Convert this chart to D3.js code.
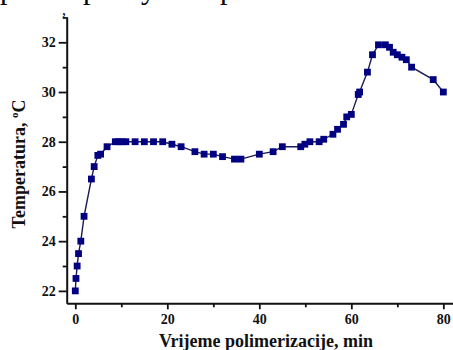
<!DOCTYPE html>
<html lang="en">
<head>
<meta charset="UTF-8">
<title>Temperatura polimerizacije</title>
<script src="https://d3js.org/d3.v7.min.js"></script>
<style>
    body { margin: 0; background: #fff; }
    svg { display: block; font-family: "Liberation Serif", "DejaVu Serif", serif; }
</style>
</head>
<body>
<svg id="chart" width="453" height="350"></svg>
<script>
    // vrijeme (min) i temperatura (°C) ocitano sa slike
    const times = [0, 0.15, 0.4, 0.7, 1.2, 1.9, 3.5, 4.1, 4.9, 5.5,
        6.9, 8.7, 9.4, 10.2, 11, 13, 15, 17, 19, 21,
        23, 26, 28, 30, 32, 34.6, 36, 40, 43, 45,
        49, 49.9, 51, 53, 54, 56, 57, 58.3, 59, 60,
        61.5, 61.8, 63.5, 64.6, 65.9, 67.4, 68.3, 69.1, 70, 71,
        71.95, 73.1, 77.8, 80];
    const temps = [22, 22.5, 23, 23.5, 24, 25, 26.5, 27, 27.45, 27.5,
        27.8, 28, 28, 28, 28, 28, 28, 28, 28, 27.9,
        27.8, 27.6, 27.5, 27.5, 27.4, 27.3, 27.3, 27.5, 27.6, 27.8,
        27.8, 27.9, 28, 28, 28.1, 28.3, 28.5, 28.7, 29, 29.1,
        29.9, 30, 30.8, 31.5, 31.9, 31.9, 31.8, 31.6, 31.5, 31.4,
        31.3, 31, 30.5, 30];
    const xTicks = [0, 20, 40, 60, 80];
    const xMinor = [10, 30, 50, 70];
    const yTicks = [22, 24, 26, 28, 30, 32];
    const yMinor = [23, 25, 27, 29, 31, 33];

    const data = times.map((t, i) => ({ t: t, v: temps[i] }));

    const svg = d3.select("#chart");
    const serif = "'Liberation Serif', 'DejaVu Serif', serif";

    const x = d3.scaleLinear().domain([-1.87, 82.1]).range([66.7, 453]);
    const y = d3.scaleLinear().domain([21.5, 33.03]).range([303.3, 16.7]);

    // ostaci teksta iz prethodnog reda (odrezani na vrhu)
    const scraps = [["p", 0, -1, 30], [",", 62, 15, 16], ["p", 83, -1, 30], ["y", 141, -1, 30], ["p", 220, -1, 30]];
    svg.append("g")
        .selectAll("text")
        .data(scraps)
        .enter()
        .append("text")
        .attr("x", d => d[1])
        .attr("y", d => d[2])
        .style("font-size", d => d[3] + "px")
        .text(d => d[0]);

    // linija
    svg.append("path")
        .datum(data)
        .attr("fill", "none")
        .attr("stroke", "#1b1b55")
        .attr("stroke-width", 1.4)
        .attr("d", d3.line().x(d => x(d.t)).y(d => y(d.v)));

    // markeri
    const s = 6.8;
    svg.append("g")
        .selectAll("rect")
        .data(data)
        .enter()
        .append("rect")
        .attr("x", d => x(d.t) - s / 2)
        .attr("y", d => y(d.v) - s / 2)
        .attr("width", s)
        .attr("height", s)
        .attr("fill", "#000080");

    // osi
    svg.append("g")
        .attr("transform", "translate(0,303.3)")
        .call(d3.axisBottom(x).tickValues(xTicks).tickSize(6).tickSizeOuter(0).tickPadding(5));
    svg.append("g")
        .attr("transform", "translate(0,303.3)")
        .call(d3.axisBottom(x).tickValues(xMinor).tickSize(4).tickFormat(""))
        .select(".domain").remove();

    svg.append("g")
        .attr("transform", "translate(66.7,0)")
        .call(d3.axisLeft(y).tickValues(yTicks).tickSize(8).tickSizeOuter(0).tickPadding(3));
    svg.append("g")
        .attr("transform", "translate(66.7,0)")
        .call(d3.axisLeft(y).tickValues(yMinor).tickSize(4).tickFormat(""))
        .select(".domain").remove();

    svg.selectAll("g").attr("font-family", serif);
    svg.selectAll(".domain").attr("stroke", "#111").attr("stroke-width", 2);
    svg.selectAll(".tick line").attr("stroke", "#111").attr("stroke-width", 1.8);
    svg.selectAll(".tick text")
        .attr("font-family", serif)
        .attr("font-size", 14)
        .attr("font-weight", "bold")
        .attr("fill", "#111");

    // naslovi osi
    svg.append("text")
        .attr("x", 266)
        .attr("y", 347)
        .attr("text-anchor", "middle")
        .style("font-size", "18px")
        .style("font-weight", "bold")
        .attr("fill", "#111")
        .text("Vrijeme polimerizacije, min");

    const yl = svg.append("text")
        .attr("text-anchor", "middle")
        .attr("transform", "translate(25,164)rotate(-90)")
        .style("font-size", "18px")
        .style("font-weight", "bold")
        .attr("fill", "#111");
    yl.append("tspan").text("Temperatura, ");
    yl.append("tspan").attr("dy", -7).style("font-size", "11px").text("o");
    yl.append("tspan").attr("dy", 7).text("C");
</script>
</body>
</html>
